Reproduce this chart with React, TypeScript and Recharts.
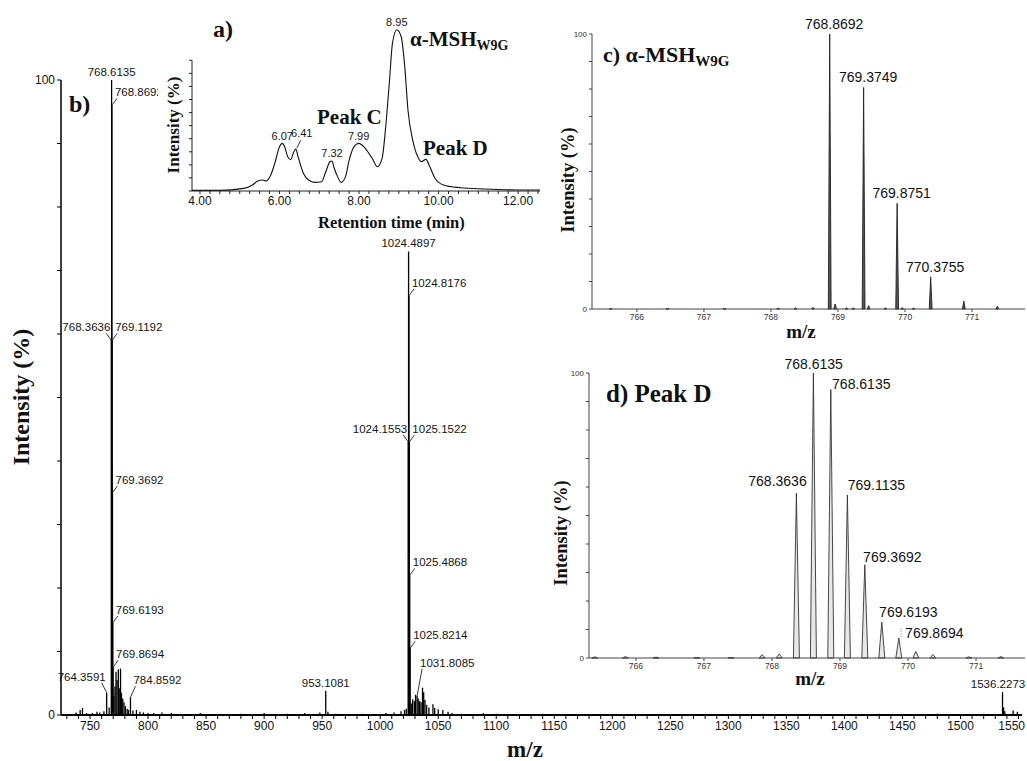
import React from 'react'
import { ComposedChart, Line, Bar, Scatter, XAxis, YAxis, ReferenceLine } from 'recharts'

const SANS = "'Liberation Sans', Arial, sans-serif"
const SERIF = "'Liberation Serif', 'Times New Roman', serif"

// b) full scan — annotated peaks (m/z, intensity %)
const tagMz = [768.6135, 768.8692, 768.3636, 769.1192, 769.3692, 769.6193, 769.8694, 764.3591, 784.8592, 953.1081, 1024.4897, 1024.8176, 1024.1553, 1025.1522, 1025.4868, 1025.8214, 1031.8085, 1536.2273]
const tagInt = [100, 96, 59, 59, 35, 14.5, 7.5, 3.5, 2.8, 3.8, 73, 66, 43, 43, 22, 10.5, 3, 3.6]

// b) unannotated minor peaks
const minorMz = [738, 741.5, 743.5, 747, 752, 756, 758.5, 762, 766.5, 770.6, 771.5, 772.4, 773.3, 774.4, 775.2, 776.3, 777.1, 778.2, 779.3, 780.5, 782, 783.2, 787, 790, 793, 796, 800, 805, 812, 820, 828, 845, 862, 880, 900, 920, 935, 948, 955, 962, 985, 1005, 1012, 1018, 1021, 1022.5, 1026.8, 1028, 1029.5, 1030.5, 1032.8, 1034, 1035.2, 1036.5, 1037.5, 1038.6, 1040, 1042, 1045.5, 1047, 1050, 1054, 1058.5, 1062, 1070, 1088.8, 1100, 1140, 1180, 1230, 1280, 1330, 1380, 1430, 1480, 1520, 1537.2, 1538.2, 1545.4, 1549]
const minorInt = [0.4, 0.8, 1.1, 0.3, 0.3, 0.5, 0.4, 0.6, 1.2, 3.0, 4.5, 6.8, 5.5, 7.2, 4.2, 7.3, 3.5, 2.6, 2.0, 1.4, 1.0, 0.8, 0.7, 0.8, 0.5, 0.4, 0.3, 0.3, 0.4, 0.3, 0.2, 0.3, 0.2, 0.2, 0.3, 0.2, 0.3, 0.4, 0.5, 0.2, 0.2, 0.3, 0.4, 0.6, 0.8, 1.0, 1.8, 2.5, 2.2, 3.2, 2.6, 2.2, 2.0, 4.3, 3.6, 2.4, 1.6, 1.2, 1.7, 1.1, 0.9, 0.8, 0.5, 0.3, 0.2, 0.3, 0.2, 0.2, 0.15, 0.15, 0.2, 0.2, 0.15, 0.2, 0.2, 0.2, 1.2, 0.6, 0.7, 0.5]

const mainTickLabels = [750, 800, 850, 900, 950, 1000, 1050, 1100, 1150, 1200, 1250, 1300, 1350, 1400, 1450, 1500, 1550]

// a) chromatogram — retention time (min) vs intensity
const rt = [3.8, 4.5, 5.1, 5.32, 5.45, 5.58, 5.66, 5.78, 5.88, 6.0, 6.07, 6.13, 6.21, 6.28, 6.36, 6.41, 6.47, 6.6, 6.73, 6.89, 7.06, 7.15, 7.27, 7.32, 7.37, 7.46, 7.55, 7.66, 7.75, 7.87, 7.99, 8.16, 8.33, 8.46, 8.58, 8.67, 8.76, 8.84, 8.95, 9.06, 9.15, 9.23, 9.35, 9.48, 9.57, 9.68, 9.78, 9.91, 10.12, 10.55, 11.15, 12.0, 12.55]
const rtInt = [0.5, 0.5, 2, 4.6, 7.6, 8.4, 7.6, 12.2, 21, 33.8, 36.4, 33.8, 26, 24, 30, 32, 26, 13.6, 8.4, 6.6, 7.1, 13.6, 22.4, 23, 18, 11, 6.6, 11, 23.4, 33.8, 36.4, 32.5, 25, 18.6, 25, 49, 82, 113, 123.4, 118, 95, 62, 39, 26, 22.4, 24.2, 18.6, 9.7, 4.6, 2.5, 1.5, 0.8, 0.8]
const apexRt = [6.07, 6.41, 7.32, 7.99, 8.95]
const rtTickLabels = [4, 6, 8, 10, 12]

// c) α-MSH W9G isotope cluster
const cTagMz = [768.8692, 769.3749, 769.8751, 770.3755]
const cTagInt = [100, 80.6, 38.4, 11.7]
const cMinorMz = [765.6, 766.45, 767.3, 768.1, 768.36, 768.62, 768.95, 769.12, 769.22, 769.45, 769.7, 769.95, 770.12, 770.87, 771.37]
const cMinorInt = [0.2, 0.2, 0.2, 0.3, 0.4, 0.6, 1.8, 0.4, 0.4, 1.2, 0.4, 0.5, 0.3, 2.9, 1.0]

// d) Peak D isotope cluster
const dTagMz = [768.3636, 768.6135, 768.8692, 769.1135, 769.3692, 769.6193, 769.8694]
const dTagInt = [57.8, 100, 94.2, 57.2, 32.7, 12.6, 7]
const dTagText = ['768.3636', '768.6135', '768.6135', '769.1135', '769.3692', '769.6193', '769.8694']
const dMinorMz = [765.4, 765.85, 766.3, 766.9, 767.4, 767.86, 768.11, 770.12, 770.37, 770.9, 771.37]
const dMinorInt = [0.4, 0.5, 0.3, 0.2, 0.2, 1.2, 1.4, 2.3, 1.2, 0.4, 0.5]

const zoomTicks = [766, 767, 768, 769, 770, 771]

const zip = (mz: number[], int: number[]) => mz.map((m, i) => ({ mz: m, int: int[i], i }))
const range = (from: number, to: number, step: number) =>
  Array.from({ length: Math.round((to - from) / step) + 1 }, (_, k) => +(from + k * step).toFixed(4))

const mainTags = zip(tagMz, tagInt)
const mainPeaks = [...mainTags, ...zip(minorMz, minorInt)].sort((a, b) => a.mz - b.mz)
const chrom = rt.map((t, i) => ({ rt: t, int: rtInt[i] }))
const apexes = apexRt.map((t) => ({ rt: t, int: rtInt[rt.indexOf(t)] }))
const cTags = zip(cTagMz, cTagInt)
const cPeaks = [...cTags, ...zip(cMinorMz, cMinorInt)].sort((a, b) => a.mz - b.mz)
const dTags = zip(dTagMz, dTagInt)
const dPeaks = [...dTags, ...zip(dMinorMz, dMinorInt)].sort((a, b) => a.mz - b.mz)

// label placement for the full scan annotations
const tagSide: Record<string, string> = {
  '768.6135': 'top', '953.1081': 'top', '1024.4897': 'top', '1536.2273': 'top',
  '768.3636': 'left', '1024.1553': 'left', '764.3591': 'left',
}
const tagLift: Record<string, number> = { '764.3591': 3, '784.8592': 4, '1031.8085': 20 }

// per-label placement in panel d
const dPlace = [
  { anchor: 'end', dx: 10, dy: -7 },
  { anchor: 'middle', dx: 0, dy: -4 },
  { anchor: 'start', dx: 1, dy: -1 },
  { anchor: 'start', dx: 0, dy: -5 },
  { anchor: 'start', dx: -2, dy: -3 },
  { anchor: 'start', dx: -3, dy: -5 },
  { anchor: 'start', dx: 6, dy: 0 },
]

const PAGE_W = 1027

function Stick(props: any) {
  const { x, y, width, height } = props
  if (!isFinite(x) || !isFinite(y) || !isFinite(height)) return null
  const cx = x + width / 2
  return <line x1={cx} x2={cx} y1={y} y2={y + height} stroke="#000" strokeWidth={1.3} />
}

const triangle = (half: number, fill: string, stroke: string) => (props: any) => {
  const { x, y, width, height } = props
  if (!isFinite(x) || !isFinite(y) || !isFinite(height)) return null
  const cx = x + width / 2
  const b = y + height
  return <path d={`M${cx - half},${b}L${cx},${y}L${cx + half},${b}Z`} fill={fill} stroke={stroke} strokeWidth={0.9} />
}
const CPeak = triangle(1.4, '#555', '#222')
const DPeak = triangle(3, '#e8e8e8', '#333')

function MainTag(props: any) {
  const { cx, cy, payload } = props
  const text = payload.mz.toFixed(4)
  const side = tagSide[text] ?? 'right'
  const up = tagLift[text] ?? 0
  const font = { fontFamily: SANS, fontSize: 11.5, fill: '#151515' }
  if (side === 'top') {
    // keep the rightmost tag inside the page
    return <text x={Math.min(cx, PAGE_W - 29)} y={cy - 4} textAnchor="middle" {...font}>{text}</text>
  }
  const s = side === 'left' ? -1 : 1
  return (
    <g>
      <line x1={cx} y1={cy} x2={cx + 5 * s} y2={cy - 7 - up} stroke="#222" strokeWidth={0.9} />
      <text x={cx + (s > 0 ? 3 : -1)} y={cy - 9 - up} textAnchor={s > 0 ? 'start' : 'end'} {...font}>{text}</text>
    </g>
  )
}

function MainXTick(props: any) {
  const { x, y, payload } = props
  const v = payload.value
  if (!mainTickLabels.includes(v)) return null
  const last = v === mainTickLabels[mainTickLabels.length - 1]
  return (
    <text
      x={last ? PAGE_W - 2 : x}
      y={y}
      dy="0.71em"
      textAnchor={last ? 'end' : 'middle'}
      fontFamily={SANS}
      fontSize={12}
      fill="#111"
    >
      {v}
    </text>
  )
}

function RtTag(props: any) {
  const { cx, cy, payload } = props
  const text = payload.rt.toFixed(2)
  const font = { fontFamily: SANS, fontSize: 11, fill: '#151515' }
  if (text === '6.41') {
    return (
      <g>
        <line x1={cx + 1} y1={cy - 1} x2={cx + 5} y2={cy - 9} stroke="#222" strokeWidth={0.9} />
        <text x={cx + 6} y={cy - 12} textAnchor="middle" {...font}>{text}</text>
      </g>
    )
  }
  return <text x={cx} y={cy - 3.5} textAnchor="middle" {...font}>{text}</text>
}

function CTag(props: any) {
  const { cx, cy, payload } = props
  return (
    <text x={cx + 5} y={cy - 5} textAnchor="middle" fontFamily={SANS} fontSize={14} fill="#111">
      {payload.mz.toFixed(4)}
    </text>
  )
}

function DTag(props: any) {
  const { cx, cy, payload } = props
  const p = dPlace[payload.i]
  return (
    <g>
      {payload.i === 6 && (
        <line x1={cx + 2} y1={cy - 1} x2={cx + 2} y2={cy - 11} stroke="#666" strokeWidth={0.8} strokeDasharray="1 1.5" />
      )}
      <text x={cx + p.dx} y={cy + p.dy} textAnchor={p.anchor as any} fontFamily={SANS} fontSize={14} fill="#111">
        {dTagText[payload.i]}
      </text>
    </g>
  )
}

function FullScan() {
  return (
    <ComposedChart width={1027} height={761} data={mainPeaks} margin={{ top: 80, right: 5, bottom: 16, left: 21 }}>
      <XAxis
        dataKey="mz"
        type="number"
        domain={[725, 1553]}
        ticks={range(730, 1550, 10)}
        interval={0}
        height={30}
        tickSize={4}
        axisLine={{ stroke: '#000', strokeWidth: 2 }}
        tickLine={{ stroke: '#000' }}
        tick={MainXTick}
      />
      <YAxis
        type="number"
        domain={[0, 100]}
        ticks={range(0, 100, 10)}
        tickFormatter={(v: number) => (v === 0 || v === 100 ? String(v) : '')}
        interval={0}
        width={40}
        tickSize={4}
        axisLine={{ stroke: '#000', strokeWidth: 1.5 }}
        tickLine={{ stroke: '#000' }}
        tick={{ fontFamily: SANS, fontSize: 12, fill: '#111' }}
      />
      <Bar dataKey="int" barSize={2} shape={Stick} isAnimationActive={false} />
      <Scatter data={mainTags} dataKey="int" shape={MainTag} isAnimationActive={false} />
    </ComposedChart>
  )
}

function Chromatogram() {
  return (
    <ComposedChart width={387} height={234} data={chrom} margin={{ top: 25, right: 5, bottom: 0, left: 14 }}>
      <XAxis
        dataKey="rt"
        type="number"
        domain={[3.8, 12.55]}
        ticks={range(4, 12.5, 0.25)}
        tickFormatter={(v: number) => (rtTickLabels.includes(v) ? v.toFixed(2) : '')}
        interval={0}
        height={43}
        tickSize={3}
        axisLine={{ stroke: '#222' }}
        tickLine={{ stroke: '#222' }}
        tick={{ fontFamily: SANS, fontSize: 12, fill: '#111' }}
      />
      <YAxis
        type="number"
        domain={[0, 127]}
        ticks={range(0, 100, 10)}
        tickFormatter={() => ''}
        interval={0}
        width={20}
        tickSize={3}
        axisLine={false}
        tickLine={{ stroke: '#222' }}
      />
      <ReferenceLine segment={[{ x: 3.8, y: 0 }, { x: 3.8, y: 100 }]} stroke="#222" />
      <Line dataKey="int" type="monotone" stroke="#111" strokeWidth={1.1} dot={false} isAnimationActive={false} />
      <Scatter data={apexes} dataKey="int" shape={RtTag} isAnimationActive={false} />
    </ComposedChart>
  )
}

function Zoomed({ data, tags, domain, margin, xHeight, peak, tag }: any) {
  return (
    <ComposedChart width={482} height={345} data={data} margin={margin}>
      <XAxis
        dataKey="mz"
        type="number"
        domain={domain}
        ticks={zoomTicks}
        interval={0}
        height={xHeight}
        tickSize={3}
        axisLine={{ stroke: '#444' }}
        tickLine={{ stroke: '#444' }}
        tick={{ fontFamily: SANS, fontSize: 8.5, fill: '#333' }}
      />
      <YAxis
        type="number"
        domain={[0, 100]}
        ticks={range(0, 100, 10)}
        tickFormatter={(v: number) => (v === 0 || v === 100 ? String(v) : '')}
        interval={0}
        width={22}
        tickSize={3}
        axisLine={{ stroke: '#444' }}
        tickLine={{ stroke: '#444' }}
        tick={{ fontFamily: SANS, fontSize: 8, fill: '#333' }}
      />
      <Bar dataKey="int" barSize={2} shape={peak} isAnimationActive={false} />
      <Scatter data={tags} dataKey="int" shape={tag} isAnimationActive={false} />
    </ComposedChart>
  )
}

function Annotations() {
  const bold = { fontFamily: SERIF, fontWeight: 700, fill: '#111' }
  return (
    <svg width={1027} height={761} style={{ position: 'absolute', left: 0, top: 0, pointerEvents: 'none' }}>
      <text x={69} y={112} fontSize={24} {...bold}>b)</text>
      <text transform="translate(29,397) rotate(-90)" textAnchor="middle" fontSize={24} {...bold}>Intensity (%)</text>
      <text x={525} y={757} textAnchor="middle" fontSize={23} {...bold}>m/z</text>

      <text x={213} y={37} fontSize={24} {...bold}>a)</text>
      <text x={410} y={46} fontSize={21} {...bold}>
        α-MSH<tspan fontSize={14} dy={4}>W9G</tspan>
      </text>
      <text x={317} y={124} fontSize={21} {...bold}>Peak C</text>
      <text x={423} y={155} fontSize={21} {...bold}>Peak D</text>
      <text transform="translate(179,125) rotate(-90)" textAnchor="middle" fontSize={17} {...bold}>Intensity (%)</text>
      <text x={318} y={228} fontSize={16.5} {...bold}>Retention time (min)</text>

      <text x={603} y={62} fontSize={22} {...bold}>
        c) α-MSH<tspan fontSize={15} dy={4}>W9G</tspan>
      </text>
      <text transform="translate(574,180) rotate(-90)" textAnchor="middle" fontSize={18.5} {...bold}>Intensity (%)</text>
      <text x={801} y={338} textAnchor="middle" fontSize={19} {...bold}>m/z</text>

      <text x={606} y={402} fontSize={25} {...bold}>d) Peak D</text>
      <text transform="translate(567,533) rotate(-90)" textAnchor="middle" fontSize={18.5} {...bold}>Intensity (%)</text>
      <text x={810} y={685} textAnchor="middle" fontSize={19} {...bold}>m/z</text>
    </svg>
  )
}

export default function App() {
  return (
    <div style={{ position: 'relative', width: 1027, height: 761, background: '#fff', overflow: 'hidden' }}>
      <style>{'body{margin:0}'}</style>
      <div style={{ position: 'absolute', left: 0, top: 0 }}>
        <FullScan />
      </div>
      <div style={{ position: 'absolute', left: 158, top: 0, background: '#fff' }}>
        <Chromatogram />
      </div>
      <div style={{ position: 'absolute', left: 545, top: 0 }}>
        <Zoomed
          data={cPeaks}
          tags={cTags}
          domain={[765.33, 771.79]}
          margin={{ top: 34, right: 2, bottom: 0, left: 25 }}
          xHeight={36}
          peak={CPeak}
          tag={CTag}
        />
      </div>
      <div style={{ position: 'absolute', left: 545, top: 345 }}>
        <Zoomed
          data={dPeaks}
          tags={dTags}
          domain={[765.31, 771.72]}
          margin={{ top: 28, right: 2, bottom: 0, left: 22 }}
          xHeight={32}
          peak={DPeak}
          tag={DTag}
        />
      </div>
      <Annotations />
    </div>
  )
}
